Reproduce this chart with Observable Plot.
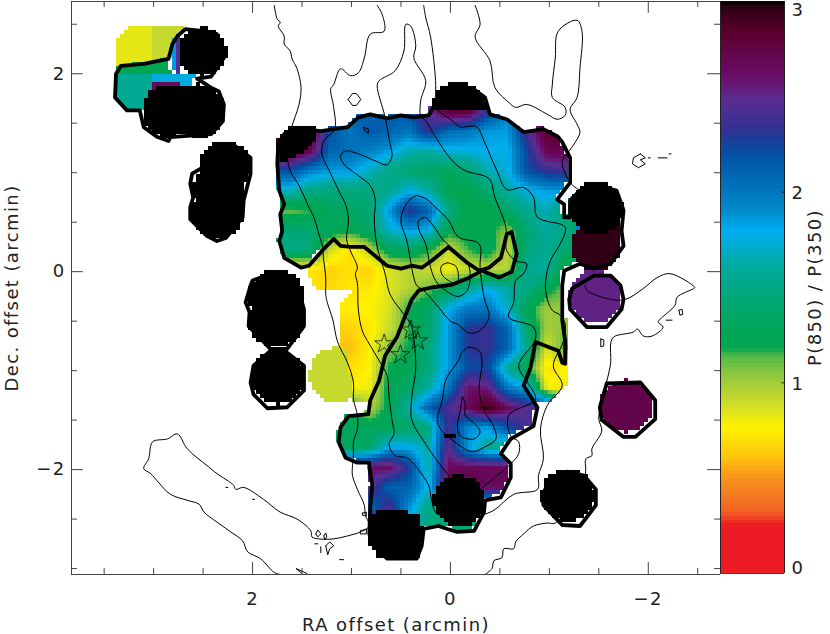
<!DOCTYPE html>
<html><head><meta charset="utf-8">
<script src="https://cdn.jsdelivr.net/npm/d3@7"></script>
<script src="https://cdn.jsdelivr.net/npm/@observablehq/plot@0.6"></script>
<style>
html,body{margin:0;padding:0;background:#fff;width:830px;height:634px;overflow:hidden}
#wrap{display:flex;width:830px;height:634px}
#wrap svg{flex:none;max-width:none}
</style></head><body><div id="wrap"></div>
<script>
// Colour bar stops: P(850)/P(350) ratio and its colour
const ratioStops=[0,.25,.33,.5,.6,.76,.91,1.05,1.14,1.18,1.26,1.6,1.79,1.92,2.18,2.32,2.48,2.62,2.83,2.97,3];
const ratioColors=["#ed1c24","#ed1c24","#f26522","#f7941d","#ffc20e","#fff200","#c5d92e","#8dc63f","#50b848","#00a651","#00a651","#00a99d","#00aeef","#0085c8","#0054a6","#2e3192","#5c2d91","#6a0a63","#5c0030","#2b0010","#000000"];
// Ratio map, sampled on a coarse grid (arcmin)
const gridX=[1.6,1.4,1.2,1.0,.8,.6,.4,.2,0,-.2,-.4,-.6,-.8,-1,-1.2,-1.4];
const gridY=[1.6,1.4,1.2,1.0,.8,.6,.4,.2,0,-.2,-.4,-.6,-.8,-1,-1.2,-1.4,-1.6,-1.8,-2,-2.2,-2.4,-2.6,-2.8,-3];
const gridValues=[
[2.3,2.3,2.2,2.15,2.1,2.15,2.2,2.45,2.8,2.8,2.3,1.9,1.9,2.9,2.9,2.9],
[2.9,2.85,2.2,2.0,2.15,2.1,2.0,2.35,2.05,2.0,1.85,1.85,2.4,2.85,2.8,2.8],
[2.9,2.7,2.1,2.05,1.95,1.85,1.65,1.6,1.75,1.75,1.8,1.75,2.25,2.7,2.7,2.7],
[2.2,1.95,1.85,1.85,1.7,1.5,1.4,1.35,1.3,1.4,1.65,1.75,2.2,2.35,2.4,2.4],
[1.7,1.5,1.45,1.45,1.45,1.5,1.75,1.6,1.25,1.25,1.4,1.6,1.75,1.85,1.85,1.85],
[1.1,1.15,1.3,1.35,1.4,1.85,2.35,2.1,1.5,1.2,1.2,1.35,1.55,1.65,1.4,1.2],
[1.42,1.4,1.3,1.25,1.35,1.7,1.85,1.8,1.25,1.25,1.25,1.05,1.4,1.6,1.5,1.25],
[1.5,1.45,.9,.7,.95,1.3,1.35,1.2,.9,1.15,1.3,.9,1.45,1.55,1.4,1.15],
[.72,.72,.65,.7,.65,.85,.95,.9,.78,.9,.9,.95,1.55,1.6,1.1,1.1],
[.7,.7,.68,.72,.72,.85,.95,1.1,1.25,1.55,1.8,1.6,1.5,1.25,1.05,1.05],
[.75,.75,.75,.75,.77,.85,1.2,1.35,1.8,2.0,2.0,1.7,1.25,1.0,1.05,1.05],
[.65,.65,.65,.65,.72,.9,1.15,1.35,1.85,2.3,2.35,2.1,1.4,1.0,1.05,1.05],
[.6,.6,.6,.6,.75,1.05,1.2,1.45,1.85,2.3,2.35,2.1,1.5,.85,1.2,1.2],
[.7,.7,.7,.7,.75,1.2,1.25,1.45,1.85,2.2,2.25,1.55,1.25,.7,.75,.75],
[.75,.75,.75,.75,.8,1.25,1.35,1.6,2.0,2.6,2.55,2.0,1.8,.8,.8,.8],
[1.3,1.3,1.3,1.3,.95,1.25,1.6,2.1,2.4,2.65,2.95,2.65,2.45,2.45,.8,.8],
[1.3,1.3,1.3,1.3,1.3,1.3,1.35,1.45,2.4,1.9,1.85,2.2,2.4,2.4,2.4,2.4],
[1.3,1.3,1.3,1.3,1.35,1.8,1.8,1.6,2.5,1.85,1.55,1.5,1.5,1.5,1.5,1.5],
[2.6,2.6,2.6,2.6,2.6,2.65,2.3,1.6,2.65,2.65,2.65,2.65,2.65,2.65,2.65,2.65],
[2.5,2.5,2.5,2.5,2.5,2.1,2.1,1.75,2.65,2.8,2.65,2.65,2.65,2.65,2.65,2.65],
[2.0,2.0,2.0,2.0,2.0,2.4,1.9,1.5,1.5,1.5,1.5,1.5,1.5,1.5,1.5,1.5],
[2.5,2.5,2.5,2.5,2.5,2.95,1.7,1.45,1.4,1.4,1.4,1.4,1.4,1.4,1.4,1.4],
[3,3,3,3,3,3,1.5,1.4,1.4,1.4,1.4,1.4,1.4,1.4,1.4,1.4],
[3,3,3,3,3,3,1.5,1.4,1.4,1.4,1.4,1.4,1.4,1.4,1.4,1.4]];
// Round beams: [RA, Dec, radius, ratio]; ratios above 3 are off the scale (black)
const beamsOver=[[2.49,2.205,.245,4],[2.83,1.61,.27,4],[2.53,1.61,.27,4],[2.26,1.04,.265,4],[2.33,.8,.26,4],[2.33,.58,.265,4],[1.74,-.28,.285,4],[1.74,-.5,.285,4],[1.725,-1.09,.27,4],[-.11,-2.34,.26,4],[-1.21,-2.28,.27,4],[-1.5,.62,.27,4],[-1.5,.24,.25,2.95],[-1.55,.42,.2,2.95],[-1.485,-.27,.265,2.52],[-1.8,-1.38,.265,2.72]];
const beamLime=[[1.13,-1.07,.28,.91]];
// Flat patches: ratio and polygon
const patchValues=[4,4,4,2.65,1.85,2.45,1.75,1.25,1.55,.83,.91,2.5,1.95];
const patchShapes=[
[[1.72,1.32],[1.62,1.44],[1.33,1.44],[1.33,1.34],[1.43,1.22],[1.6,1.12],[1.69,1.07]],
[[.15,1.73],[.1,1.82],[0,1.88],[-.2,1.88],[-.3,1.83],[-.37,1.76],[-.41,1.6],[.17,1.6]],
[[.8,-2.465],[.66,-2.44],[.44,-2.44],[.3,-2.48],[.25,-2.68],[.3,-2.93],[.7,-2.93],[.83,-2.72]],
[[2.98,1.88],[2.71,1.9],[2.71,1.83],[3,1.8]],
[[2.81,2.3],[2.76,2.38],[2.76,2.02],[2.81,2.02]],
[[2.76,2.38],[2.71,2.42],[2.71,2],[2.76,2]],
[[3,2],[2.56,2],[2.56,1.95],[2.62,1.84],[3,1.84]],
[[3.35,2.06],[2.85,2.13],[2.81,2],[2.73,1.98],[3.35,1.99]],
[[3.37,2],[3,2],[3,1.8],[3.1,1.63],[3.27,1.63],[3.38,1.76]],
[[3.37,2.33],[3.25,2.45],[2.98,2.45],[2.98,2.09],[3.33,2.07],[3.37,2.07]],
[[2.98,2.45],[2.68,2.45],[2.76,2.3],[2.82,2.15],[2.85,2.13],[2.98,2.09]],
[[-1.35,.47],[-1.45,.42],[-1.45,.1],[-1.35,.1]],
[[-1.29,.45],[-1.35,.45],[-1.35,.12],[-1.29,.12]]];
const diamond=[[.05,-1.68],[-.02,-1.65],[-.09,-1.68],[-.02,-1.71]];
// Thick contours
const thickMain=[[1.68,1.39],[1.74,1.29],[1.75,1.09],[1.73,.82],[1.68,.68],[1.72,.58],[1.7,.41],[1.73,.31],[1.68,.14],[1.51,.04],[1.43,.06],[1.28,.23],[1.18,.33],[1.11,.26],[1.01,.25],[.87,.25],[.64,.06],[.5,.03],[.39,.06],[.29,.04],[.19,.11],[.02,.25],[-.17,.09],[-.29,.01],[-.39,.04],[-.51,.14],[-.57,.38],[-.62,.4],[-.67,.18],[-.62,0],[-.49,-.06],[-.32,.01],[-.17,-.07],[-.02,-.13],[.19,-.16],[.32,-.19],[.39,-.28],[.47,-.48],[.54,-.66],[.66,-.85],[.72,-1.1],[.81,-1.3],[.83,-1.44],[1.03,-1.46],[1.11,-1.57],[1.13,-1.72],[1.06,-1.88],[.94,-1.93],[.82,-1.93],[.82,-1.98],[.79,-2.15],[.81,-2.38],[.82,-2.65],[.79,-2.75],[.64,-2.9],[.34,-2.9],[.29,-2.77],[.27,-2.6],[.17,-2.58],[.12,-2.57],[.03,-2.6],[-.07,-2.63],[-.24,-2.62],[-.34,-2.43],[-.35,-2.31],[-.51,-2.28],[-.61,-2.08],[-.61,-1.94],[-.51,-1.84],[-.61,-1.69],[-.84,-1.56],[-.88,-1.37],[-.74,-1.15],[-.81,-.97],[-.86,-.71],[-1.09,-.8],[-1.13,-.92],[-1.16,-.93],[-1.16,-.7],[-1.13,-.49],[-1.13,-.14],[-1.15,.01],[-1.31,.08],[-1.45,.03],[-1.62,.08],[-1.75,.26],[-1.73,.41],[-1.75,.62],[-1.68,.82],[-1.48,.87],[-1.31,.82],[-1.21,.72],[-1.21,.55],[-1.15,.55],[-1.15,.68],[-1.08,.73],[-1.21,.9],[-1.21,1.15],[-1.13,1.31],[-1.08,1.37],[-.94,1.44],[-.74,1.41],[-.57,1.54],[-.4,1.59],[-.35,1.76],[-.24,1.84],[0,1.86],[.13,1.73],[.22,1.58],[.37,1.56],[.5,1.58],[.64,1.55],[.81,1.59],[.93,1.56],[1.04,1.46],[1.31,1.42],[1.48,1.44],[1.68,1.39]];
const thickNW=[[2.68,2.45],[2.76,2.38],[2.81,2.3],[2.85,2.15],[3.1,2.1],[3.33,2.08],[3.38,2],[3.39,1.76],[3.27,1.63],[3.14,1.63],[3.1,1.46],[2.96,1.36],[2.85,1.32],[2.83,1.36],[2.42,1.39],[2.3,1.52],[2.29,1.69],[2.34,1.82],[2.42,1.86],[2.56,1.95],[2.42,1.97],[2.29,2.16],[2.36,2.4],[2.49,2.43],[2.68,2.45]];
const thickWest=[[2.51,1.17],[2.51,1.05],[2.61,.99],[2.63,.89],[2.6,.75],[2.63,.65],[2.63,.53],[2.46,.36],[2.36,.31],[2.27,.34],[2.1,.55],[2.09,.72],[2.02,.99],[2.02,1.15],[2.19,1.28],[2.36,1.26],[2.48,1.17],[2.51,1.17]];
const thickSW1=[[2.02,-.14],[2.07,-.31],[2.03,-.41],[2.04,-.55],[1.82,-.78],[1.65,-.78],[1.48,-.55],[1.48,-.38],[1.52,-.24],[1.54,-.14],[1.68,-.06],[1.82,-.02],[2,-.09],[2.02,-.14]];
const thickSW2=[[1.82,-.8],[1.99,-.95],[2.02,-1.12],[1.99,-1.24],[1.85,-1.38],[1.65,-1.37],[1.48,-1.2],[1.48,-.95],[1.65,-.82],[1.82,-.8]];
const thickSE=[[-.99,-2.13],[-.93,-2.26],[-.94,-2.36],[-1.13,-2.56],[-1.31,-2.57],[-1.47,-2.36],[-1.47,-2.2],[-1.35,-2.06],[-1.18,-2.02],[-.99,-2.13]];
const thickPurple=[[-1.72,-.14],[-1.75,-.28],[-1.73,-.38],[-1.58,-.56],[-1.38,-.56],[-1.21,-.38],[-1.2,-.28],[-1.23,-.17],[-1.45,-.04],[-1.62,-.04],[-1.72,-.14]];
const thickMagenta=[[-1.58,-1.13],[-1.92,-1.12],[-2.07,-1.3],[-2.07,-1.49],[-1.87,-1.67],[-1.75,-1.67],[-1.53,-1.5],[-1.51,-1.37],[-1.58,-1.13]];
const yellowWest=[[1.41,.01],[1.28,.23],[1.18,.33],[1.11,.26],[.87,.25],[.64,.06],[.39,.06],[.19,.11],[.02,.25],[-.17,.09],[-.29,.01],[-.39,.04],[-.51,.14],[-.57,.38],[-.62,.4],[-.67,.18],[-.62,0],[-.49,-.06],[-.32,.01],[-.17,-.07],[-.02,-.13],[.19,-.16],[.32,-.19],[.39,-.28],[.47,-.48],[.54,-.66],[.66,-.85],[.72,-1.1],[.81,-1.3],[.825,-1.34],[.96,-1.34],[1.03,-.8],[1.11,-.8],[1.11,-.5],[1.09,-.36],[.96,-.22],[1.31,-.21],[1.41,-.09]];
const yellowEast=[[-.86,-.71],[-1.09,-.8],[-1.13,-.49],[-1.22,-.49],[-1.2,-.95],[-1.2,-1.15],[-1.11,-1.27],[-1,-1.34],[-.93,-1.35],[-.88,-1.37],[-.74,-1.15],[-.81,-.97]];
// Thin contours
const contourA=[[1.78,2.69],[1.75,2.55],[1.72,2.52],[1.74,2.48],[1.68,2.38],[1.68,2.3],[1.62,2.23],[1.6,2.15],[1.55,2.05],[1.51,1.86],[1.53,1.69],[1.61,1.44],[1.65,1.2],[1.62,1.02],[1.53,.87],[1.43,.65],[1.38,.55],[1.33,.38],[1.3,.28],[1.28,.11],[1.26,-.06],[1.26,-.23],[1.245,-.31],[1.19,-.48],[1.14,-.71],[1.04,-.92],[.98,-1.12],[.98,-1.29],[.94,-1.45],[.94,-1.59],[.98,-1.72],[.98,-1.86],[.99,-1.96],[.99,-2.06],[.94,-2.2],[.87,-2.36],[.86,-2.46],[.82,-2.57],[.91,-2.63],[1.04,-2.67],[1.18,-2.7],[1.33,-2.7],[1.4,-2.68],[1.41,-2.62],[1.55,-2.5],[1.72,-2.43],[1.89,-2.3],[2.09,-2.18],[2.17,-2.2],[2.19,-2.16],[2.36,-2.04],[2.46,-1.96],[2.66,-1.79],[2.76,-1.64],[2.86,-1.69],[3.01,-1.72],[3.05,-1.89],[3.1,-1.99],[3.03,-2.04],[2.95,-2.13],[2.83,-2.25],[2.66,-2.31],[2.54,-2.35],[2.49,-2.43],[2.36,-2.53],[2.22,-2.63],[2.1,-2.72],[2.05,-2.83],[1.92,-2.9],[1.78,-3.04],[1.72,-3.06]];
const contourB=[[.74,2.69],[.69,2.6],[.67,2.43],[.81,2.4],[.87,2.16],[.93,2.01],[1.01,1.98],[1.11,2.05],[1.18,1.89],[1.21,1.85],[1.18,1.66],[1.17,1.44],[1.28,1.32],[1.3,1.2],[1.21,.99],[1.11,.78],[1.06,.68],[1.03,.52],[1.05,.33],[1.01,.21],[.94,.04],[.96,-.02],[.94,-.12],[.93,-.39],[.89,-.6],[.82,-.73],[.72,-.9],[.64,-1.05],[.62,-1.27],[.59,-1.5],[.57,-1.64],[.62,-1.74],[.56,-1.86],[.44,-1.88],[.34,-1.98],[.22,-2.16],[.19,-2.31],[.13,-2.45],[-.3,-2.46],[-.44,-2.41],[-.64,-2.25],[-.88,-2.2],[-.89,-2.06],[-.94,-1.89],[-.91,-1.59],[-.98,-1.35],[-1.13,-1.15],[-1.04,-.95],[-1.14,-.71],[-1.16,-.53],[-1.11,-.44],[-1.03,-.39],[-.98,-.28],[-.96,-.12],[-1.01,.11],[-1.11,.28],[-1.16,.45],[-.88,.55],[-.84,.75],[-.74,.85],[-.57,.83],[-.47,1.02],[-.34,1.32],[-.27,1.46],[-.19,1.47],[-.1,1.46],[-.02,1.525],[.15,1.66],[.15,1.79],[.15,1.93],[.2,2.37],[.25,2.57],[.27,2.69]];
const contourD=[[0,-2.08],[.15,-1.89],[.25,-1.74],[.39,-1.5],[.39,-1.27],[.35,-.97],[.39,-.56],[.42,-.5],[.47,-.43],[.61,-.23],[.66,-.02],[.74,.25],[.77,.52],[.76,.73],[.81,.87],[.93,.97],[1.08,1.09],[1.11,1.17],[1.06,1.22],[.93,1.19],[.76,1.12],[.64,1.08],[.59,1.17],[.61,1.29],[.66,1.56],[.74,1.88],[.72,1.93],[.56,2.03],[.47,2.23],[.45,2.5],[.4,2.48],[.35,2.28],[.37,2.16],[.25,1.93],[.3,1.73],[.3,1.575],[.25,1.525],[.15,1.36],[-.02,1.12],[-.15,1.02],[-.39,.94],[-.45,.75],[-.56,.45],[-.56,.28],[-.57,.21],[-.66,.11],[-.77,.08],[-.74,-.02],[-.66,-.09],[-.64,-.31],[-.59,-.46],[-.84,-.56],[-.86,-.68],[-.69,-.95],[-.78,-1.12],[-.86,-1.29],[-.59,-1.45],[-.61,-1.66],[-.69,-1.72],[-.69,-1.84],[-.61,-1.94],[-.3,-2.2]];
const contourF=[[-.25,2.69],[-.3,2.5],[-.25,2.37],[-.4,2.13],[-.45,1.86],[-.59,1.71],[-.66,1.66],[-.77,1.69],[-.98,1.59],[-1.08,1.54],[-1.16,1.58],[-1.16,1.66],[-1.03,1.76],[-1.03,1.89],[-1.06,2.16],[-1.09,2.43],[-1.28,2.54],[-1.33,2.43],[-1.31,2.06],[-1.28,1.76],[-1.21,1.64],[-1.28,1.49],[-1.31,1.41],[-1.25,1.29],[-1.2,1.22],[-1.13,1.12],[-1.21,.9],[-1.31,.82]];
const contourE=[[-1.36,-.14],[-1.38,-.19],[-1.62,-.28],[-1.77,-.28],[-1.95,-.17],[-2.09,-.06],[-2.22,-.02],[-2.47,-.16],[-2.46,-.17],[-2.29,-.26],[-2.27,-.34],[-2.12,-.48],[-2.1,-.51],[-2.15,-.56],[-2.04,-.65],[-1.95,-.65],[-1.89,-.58],[-1.85,-.61],[-1.65,-.66],[-1.62,-.73],[-1.62,-.92],[-1.57,-1.15],[-1.52,-1.35],[-1.5,-1.49],[-1.53,-1.61],[-1.43,-1.79],[-1.43,-1.86],[-1.37,-1.89],[-1.36,-2.06],[-1.06,-2.54],[-.98,-2.54],[-.84,-2.57],[-.74,-2.65],[-.66,-2.73],[-.64,-2.8],[-.54,-2.8],[-.52,-2.89],[-.44,-2.92],[-.42,-3],[-.35,-3.06]];
const contourG=[[.34,.77],[.42,.72],[.5,.53],[.44,.31],[.37,-.06],[.34,-.14],[.27,-.19],[.12,-.36],[0,-.5],[-.07,-.53],[-.19,-.62],[-.29,-.6],[-.39,-.46],[-.34,-.26],[-.3,.04],[-.29,.28],[-.08,.35],[.02,.52],[.15,.65],[.25,.74],[.34,.77]];
const contourH=[[.25,.55],[.32,.52],[.32,.43],[.25,.28],[.2,.04],[.15,-.09],[.05,-.19],[-.08,-.25],[-.17,-.19],[-.2,-.02],[-.17,.09],[-.08,.18],[.08,.33],[.17,.46],[.25,.55]];
const contourI=[[.03,.09],[.09,.06],[.09,-.02],[.02,-.09],[-.07,-.12],[-.08,-.02],[-.05,.06],[.03,.09]];
const contourJ=[[-.19,-.76],[-.12,-.81],[-.08,-.9],[.05,-1.1],[.08,-1.29],[.13,-1.49],[.1,-1.59],[.02,-1.67],[-.07,-1.74],[-.22,-1.82],[-.35,-1.77],[-.46,-1.69],[-.44,-1.57],[-.34,-1.4],[-.29,-1.2],[-.32,-.9],[-.29,-.8],[-.19,-.76]];
const contourK=[[-.12,-1.26],[-.1,-1.4],[-.07,-1.57],[-.1,-1.66],[-.24,-1.69],[-.3,-1.62],[-.25,-1.54],[-.15,-1.45],[-.15,-1.34],[-.12,-1.26]];
const specks=[
[[1.035,1.74],[.99,1.8],[.95,1.8],[.905,1.74],[.95,1.68],[.99,1.68],[1.035,1.74]],
[[.876,1.458],[.83,1.44],[.83,1.4],[.866,1.424],[.876,1.458]],
[[-1.92,1.19],[-1.85,1.15],[-1.84,1.09],[-1.9,1.05],[-1.97,1.09],[-1.92,1.13],[-1.97,1.15],[-1.92,1.19]],
[[-2.1,1.15],[-2.19,1.15]],[[-2.21,1.19],[-2.23,1.19]],[[-2,1.15],[-2.02,1.15]],
[[-2.31,-.39],[-2.34,-.38],[-2.35,-.43],[-2.32,-.44],[-2.31,-.39]],[[-2.18,-.49],[-2.24,-.49]],
[[-1.52,-.68],[-1.55,-.69],[-1.55,-.75],[-1.52,-.76],[-1.52,-.68]],
[[1.36,-2.65],[1.34,-2.61],[1.31,-2.65],[1.34,-2.68],[1.36,-2.65]],[[1.28,-2.67],[1.26,-2.64],[1.25,-2.68],[1.27,-2.71],[1.28,-2.67]],
[[1.26,-2.77],[1.22,-2.73],[1.18,-2.77],[1.22,-2.8],[1.24,-2.86],[1.26,-2.77]],[[1.34,-2.75],[1.37,-2.75]],[[1.31,-2.78],[1.31,-2.84]],
[[.91,-2.62],[.85,-2.6],[.85,-2.65],[.91,-2.65],[.91,-2.62]],[[.89,-2.44],[.85,-2.43],[.85,-2.47],[.89,-2.46],[.89,-2.44]],
[[1.12,-2.91],[1.08,-2.91]],[[2.0,-2.3],[1.98,-2.3]],[[2.27,-2.18],[2.25,-2.18]],[[1.5,-3.05],[1.56,-3.0],[1.45,-3.05]]];
const starRA=[.67,.505,.4,.33];
const starDec=[-.73,-.84,-.59,-.7];
// Axes
const xLong=[2,0,-2], yLong=[2,0,-2];
const xMinor=[3.5,3,2.5,1.5,1,.5,-.5,-1,-1.5,-2.5];
const yMinor=[2.5,1.5,1,.5,-.5,-1,-1.5,-2.5,-3];
const barLabels=[0,1,2,3];
const xDom=[3.83,-2.73], yDom=[-3.06,2.73];
const colorScale={type:"linear",domain:ratioStops,range:ratioColors,clamp:true};
const font={fontFamily:"'DejaVu Sans'",fontSize:"18px",color:"#222",letterSpacing:"1.4px",background:"transparent"};

const inBeam=(b,x,y)=>(x-b[0])**2+(y-b[1])**2<=b[2]**2;
const inPoly=(p,x,y)=>d3.polygonContains(p,[x,y]);
const clamp01=t=>Math.max(0,Math.min(1,t));
function gridSample(x,y){
  const c=Math.min(gridX.length-2,Math.max(0,Math.floor((gridX[0]-x)/.2)));
  const r=Math.min(gridY.length-2,Math.max(0,Math.floor((gridY[0]-y)/.2)));
  const u=clamp01((gridX[c]-x)/.2), v=clamp01((gridY[r]-y)/.2);
  const a=gridValues[r][c],b=gridValues[r][c+1],d=gridValues[r+1][c],e=gridValues[r+1][c+1];
  return (a*(1-u)+b*u)*(1-v)+(d*(1-u)+e*u)*v;
}
function ratioAt(x,y){
  for(const b of beamsOver) if(inBeam(b,x,y)) return b[3];
  if(inPoly(diamond,x,y)) return 4;
  for(let i=0;i<patchShapes.length;i++) if(inPoly(patchShapes[i],x,y)) return patchValues[i];
  if(inPoly(thickMain,x,y)||inPoly(yellowWest,x,y)||inPoly(yellowEast,x,y)) return gridSample(x,y);
  for(const b of beamLime) if(inBeam(b,x,y)) return b[3];
  return NaN;
}
const rasterW=162, rasterH=143;
const halfX=(xDom[0]-xDom[1])/rasterW/2, halfY=(yDom[1]-yDom[0])/rasterH/2;
const pick={x:d=>d[0],y:d=>d[1]};
const thin=[contourA,contourB,contourD,contourF,contourE,contourG,contourH,contourI,contourJ,contourK].map(c=>Plot.line(c,{...pick,stroke:"#000",strokeWidth:1,curve:"catmull-rom"}));
const thinSpecks=specks.map(c=>Plot.line(c,{...pick,stroke:"#000",strokeWidth:1,curve:"linear"}));
const thick=[thickMain,thickNW,thickWest,thickSW1,thickSW2,thickSE,thickPurple,thickMagenta].map(c=>Plot.line(c,{...pick,stroke:"#000",strokeWidth:3.8,strokeLinejoin:"round"}));
const main=Plot.plot({
  width:720,height:634,marginLeft:71,marginRight:0,marginTop:1,marginBottom:60,
  style:font,
  x:{domain:xDom,axis:null},y:{domain:yDom,axis:null},color:colorScale,
  marks:[
    Plot.raster({fill:(x,y)=>ratioAt(x-halfX,y-halfY),x1:xDom[0],x2:xDom[1],y1:yDom[1],y2:yDom[0],width:rasterW,height:rasterH,imageRendering:"pixelated"}),
    ...thin,...thinSpecks,...thick,
    Plot.dot(starRA.map((x,i)=>[x,starDec[i]]),{...pick,symbol:"star",r:6,stroke:"#000",strokeWidth:.7,fill:"none"}),
    Plot.ruleX(xLong,{y1:-3.06,y2:-2.94,stroke:"#444"}),Plot.ruleX(xLong,{y1:2.73,y2:2.61,stroke:"#444"}),
    Plot.ruleX(xMinor,{y1:-3.06,y2:-3,stroke:"#444"}),Plot.ruleX(xMinor,{y1:2.73,y2:2.67,stroke:"#444"}),
    Plot.ruleY(yLong,{x1:3.83,x2:3.71,stroke:"#444"}),Plot.ruleY(yLong,{x1:-2.73,x2:-2.6,stroke:"#444"}),
    Plot.ruleY(yMinor,{x1:3.83,x2:3.77,stroke:"#444"}),Plot.ruleY(yMinor,{x1:-2.73,x2:-2.67,stroke:"#444"}),
    Plot.frame({stroke:"#444",strokeWidth:1}),
    Plot.axisX({ticks:xLong,tickSize:0,tickPadding:18,label:"RA offset (arcmin)",labelAnchor:"center",labelArrow:"none",labelOffset:56,tickFormat:d=>String(d).replace("-","\u2212")}),
    Plot.axisY({ticks:yLong,tickSize:0,tickPadding:6,label:"Dec. offset (arcmin)",labelAnchor:"center",labelArrow:"none",labelOffset:66,tickFormat:d=>String(d).replace("-","\u2212")})
  ]
});
const barStep=.02;
const levels=d3.range(0,3,barStep);
const bar=Plot.plot({
  width:110,height:634,marginLeft:0,marginRight:46,marginTop:1,marginBottom:61,
  style:font,
  x:{domain:[0,1],axis:null},y:{domain:[0,3],axis:null},color:colorScale,
  marks:[
    Plot.rect(levels,{x1:()=>0,x2:()=>1,y1:d=>d,y2:d=>d+barStep,fill:d=>d+barStep/2,shapeRendering:"crispEdges"}),
    Plot.ruleX([0,1],{stroke:"#222"}),
    Plot.ruleY([0],{stroke:"#444"}),
    Plot.ruleY(barLabels.slice(1,3),{x1:()=>.96,x2:()=>1,stroke:"#222"}),
    Plot.text(barLabels.filter(d=>d==0),{x:()=>1,y:d=>d,text:d=>String(d),dx:7,dy:-5,textAnchor:"start"}),
    Plot.text(barLabels.filter(d=>d==1||d==2),{x:()=>1,y:d=>d,text:d=>String(d),dx:7,dy:1,textAnchor:"start"}),
    Plot.text(barLabels.filter(d=>d==3),{x:()=>1,y:d=>d,text:d=>String(d),dx:7,dy:9,textAnchor:"start"}),
    Plot.axisY({anchor:"right",ticks:[],tickSize:0,label:"P(850) / P(350)",labelAnchor:"center",labelArrow:"none",labelOffset:36})
  ]
});
document.getElementById("wrap").append(main,bar);
</script></body></html>
